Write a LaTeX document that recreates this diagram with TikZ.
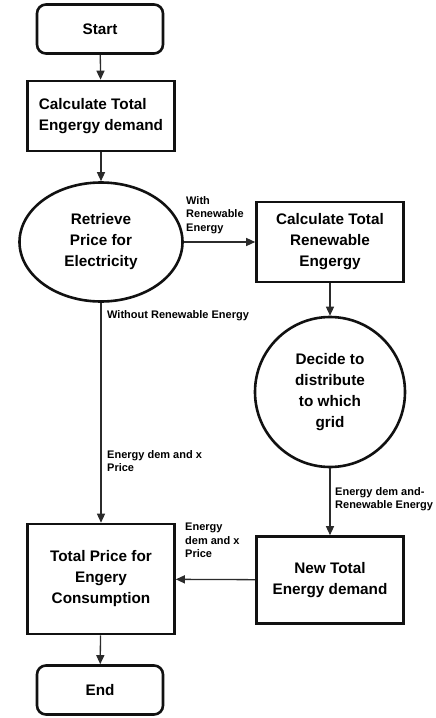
\documentclass[tikz,border=0pt]{standalone}
\usepackage{fontspec}
\setmainfont{Liberation Sans}
\usetikzlibrary{
  arrows.meta,
  shapes.geometric,
  positioning
}
\definecolor{fcLine}{HTML}{111111}
\definecolor{fcArrow}{HTML}{2B2B2B}
\tikzset{
  fcnode/.style={
    draw=fcLine, line width=2.6pt, inner sep=0pt, align=center,
    font=\fontsize{15.3}{21}\selectfont\bfseries
  },
  terminal/.style={fcnode, rounded corners=9pt, minimum width=126pt, minimum height=49pt},
  procbox/.style={fcnode, minimum width=147pt},
  oval/.style={fcnode, ellipse, minimum width=163pt, minimum height=119pt},
  roundel/.style={fcnode, circle, minimum size=150pt},
  flow/.style={-{Triangle[length=9pt, width=8pt]}, line width=1.3pt, fcArrow},
  tag/.style={font=\fontsize{11}{13.6}\selectfont\bfseries, align=left, inner sep=0pt}
}
\begin{document}
\begin{tikzpicture}[x=1pt, y=-1pt]
  \useasboundingbox (0,0) rectangle (436,718);
  % left column
  \node[terminal] (start) at (100,29) {Start};
  \node[procbox, minimum height=70pt, align=left] (calcdem) at (101,116) {Calculate Total\\Engergy demand};
  \node[oval] (price) at (101,242) {Retrieve\\Price for\\Electricity};
  \node[procbox, minimum height=110pt] (totprice) at (101,579) {Total Price for\\Engery\\Consumption};
  \node[terminal] (end) at (100,690) {End};
  % right column
  \node[procbox, minimum height=80pt] (calcren) at (330,242) {Calculate Total\\Renewable\\Engergy};
  \node[roundel] (decide) at (330,392) {Decide to\\distribute\\to which\\grid};
  \node[procbox, minimum height=87pt] (newdem) at (330,580) {New Total\\Energy demand};
  % connectors
  \draw[flow] (start) -- (calcdem);
  \draw[flow] (calcdem) -- (price);
  \draw[flow] (price) -- (calcren);
  \draw[flow] (calcren) -- (decide);
  \draw[flow] (decide) -- (newdem);
  \draw[flow] (newdem) -- (totprice);
  \draw[flow] (price) -- (totprice);
  \draw[flow] (totprice) -- (end);
  % tags
  \node[tag, anchor=north west] (withren) at (186,196) {With\\Renewable\\Energy};
  \node[tag, anchor=west] (withoutren) at (107,316) {Without Renewable Energy};
  \node[tag, anchor=north west] (demleft) at (107,450) {Energy dem and x\\Price};
  \node[tag, anchor=north west] (demright) at (335,487) {Energy dem and-\\Renewable Energy};
  \node[tag, anchor=north west] (demnew) at (185,523) {Energy\\dem and x\\Price};
\end{tikzpicture}
\end{document}
